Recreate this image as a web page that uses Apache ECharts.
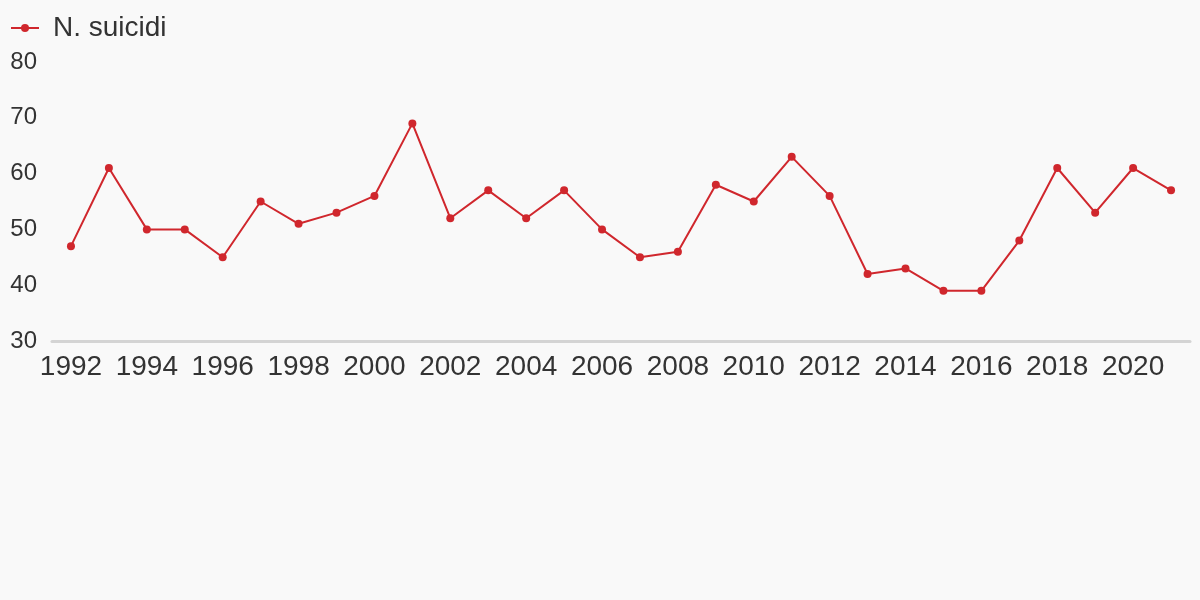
<!DOCTYPE html>
<html><head><meta charset="utf-8">
<script src="https://cdn.jsdelivr.net/npm/echarts@6/dist/echarts.min.js"></script>
<style>html,body{margin:0;padding:0;background:#f9f9f9}#c{width:1200px;height:600px}</style>
</head><body><div id="c"></div>
<script>
const years = ['1992','1993','1994','1995','1996','1997','1998','1999','2000','2001','2002','2003','2004','2005','2006','2007','2008','2009','2010','2011','2012','2013','2014','2015','2016','2017','2018','2019','2020','2021'];
const suicidi = [47,61,50,50,45,55,51,53,56,69,52,57,52,57,50,45,46,58,55,63,56,42,43,39,39,48,61,53,61,57];
const seriesName = 'N. suicidi';
const yTicks = {min: 30, max: 80, interval: 10};
const FONT = '"Liberation Sans", Arial, sans-serif';

const chart = echarts.init(document.getElementById('c'));
chart.setOption({
  backgroundColor: '#f9f9f9',
  textStyle: {fontFamily: FONT},
  legend: {
    left: 10, top: 14, padding: 0,
    itemWidth: 28, itemHeight: 10, itemGap: 10,
    textStyle: {fontSize: 28, color: '#333', fontFamily: FONT, padding: [0, 0, 0, 9]},
    data: [seriesName]
  },
  grid: {left: 52, right: 10, top: 62, bottom: 259},
  xAxis: {
    type: 'category', data: years, boundaryGap: true,
    axisLine: {lineStyle: {color: '#d4d4d4', width: 3}},
    axisTick: {show: false},
    axisLabel: {interval: 1, fontSize: 28, color: '#333', margin: 12, fontFamily: FONT}
  },
  yAxis: {
    type: 'value', min: yTicks.min, max: yTicks.max, interval: yTicks.interval,
    axisLine: {show: false}, axisTick: {show: false},
    splitLine: {show: false},
    axisLabel: {fontSize: 24, color: '#333', margin: 15, fontFamily: FONT, padding: [3, 0, 0, 0]}
  },
  series: [{
    name: seriesName, type: 'line', data: suicidi,
    color: '#d0272d',
    symbol: 'circle', symbolSize: 8,
    lineStyle: {width: 2},
    itemStyle: {color: '#d0272d'}
  }]
});
</script></body></html>
